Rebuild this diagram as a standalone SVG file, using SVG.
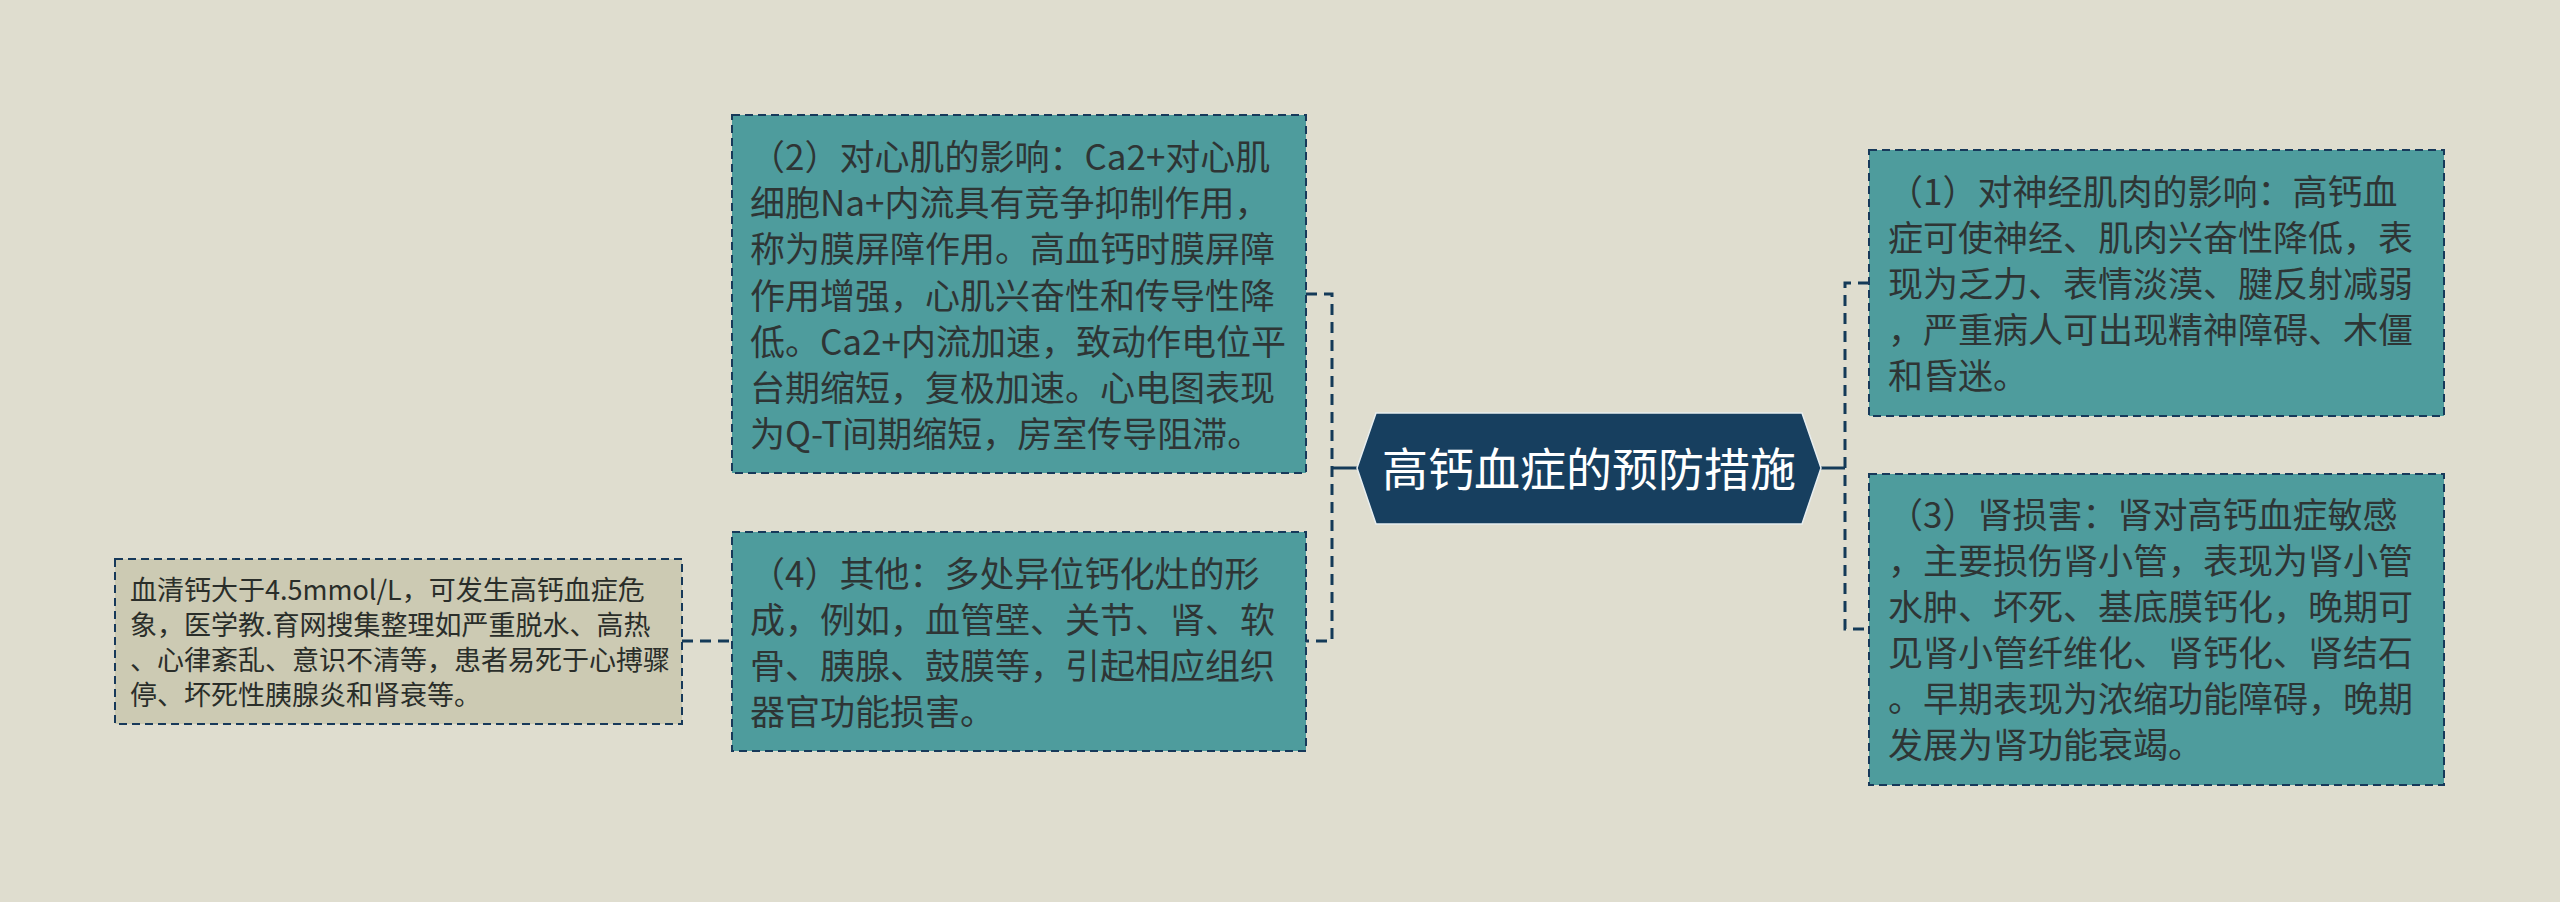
<svg xmlns="http://www.w3.org/2000/svg" width="2560" height="902" viewBox="0 0 2560 902">
<style>
.bg{fill:#DFDDCF}
.box{fill:#4E9C9D;stroke:#17395A;stroke-width:2;stroke-dasharray:8 5}
.lbox{fill:#CCCAB3;stroke:#17395A;stroke-width:2;stroke-dasharray:8 5}
.t{font-family:"Microsoft YaHei","Noto Sans CJK SC","Noto Sans",sans-serif;font-size:35px;fill:#2E3535}
.ts{font-family:"Microsoft YaHei","Noto Sans CJK SC","Noto Sans",sans-serif;font-size:27px;fill:#2A2E2A}
.root{fill:#173F5F;stroke:#E8EEF0;stroke-width:1.5}
.rt{font-family:"Microsoft YaHei","Noto Sans CJK SC","Noto Sans",sans-serif;font-size:46px;fill:#FFFFFF}
.c{fill:none;stroke:#143A58;stroke-width:3;stroke-dasharray:11 7}
.cs{fill:none;stroke:#143A58;stroke-width:3}
</style>
<rect class="bg" x="0" y="0" width="2560" height="902"/>
<g id="connectors">
<path class="c" d="M1306,294 H1332 V641 H1306"/>
<path class="cs" d="M1332,468 H1357"/>
<path class="c" d="M1869,283 H1845 V629 H1869"/>
<path class="cs" d="M1821,468 H1845"/>
<path class="c" d="M682,641 H732"/>
</g>
<g id="root">
<polygon class="root" points="1357,468 1376,413 1802,413 1821,468 1802,524 1376,524"/>
<text class="rt" x="1589" y="486" text-anchor="middle">高钙血症的预防措施</text>
</g>
<g id="node2">
<rect class="box" x="732" y="115" width="574" height="358"/>
<text class="t">
<tspan x="750" y="170">（2）对心肌的影响：Ca2+对心肌</tspan>
<tspan x="750" y="216">细胞Na+内流具有竞争抑制作用，</tspan>
<tspan x="750" y="262">称为膜屏障作用。高血钙时膜屏障</tspan>
<tspan x="750" y="309">作用增强，心肌兴奋性和传导性降</tspan>
<tspan x="750" y="355">低。Ca2+内流加速，致动作电位平</tspan>
<tspan x="750" y="401">台期缩短，复极加速。心电图表现</tspan>
<tspan x="750" y="447">为Q-T间期缩短，房室传导阻滞。</tspan>
</text>
</g>
<g id="node4">
<rect class="box" x="732" y="532" width="574" height="219"/>
<text class="t">
<tspan x="750" y="587">（4）其他：多处异位钙化灶的形</tspan>
<tspan x="750" y="633">成，例如，血管壁、关节、肾、软</tspan>
<tspan x="750" y="679">骨、胰腺、鼓膜等，引起相应组织</tspan>
<tspan x="750" y="725">器官功能损害。</tspan>
</text>
</g>
<g id="node1">
<rect class="box" x="1869" y="150" width="575" height="266"/>
<text class="t">
<tspan x="1888" y="205">（1）对神经肌肉的影响：高钙血</tspan>
<tspan x="1888" y="251">症可使神经、肌肉兴奋性降低，表</tspan>
<tspan x="1888" y="297">现为乏力、表情淡漠、腱反射减弱</tspan>
<tspan x="1888" y="343">，严重病人可出现精神障碍、木僵</tspan>
<tspan x="1888" y="389">和昏迷。</tspan>
</text>
</g>
<g id="node3">
<rect class="box" x="1869" y="474" width="575" height="311"/>
<text class="t">
<tspan x="1888" y="528">（3）肾损害：肾对高钙血症敏感</tspan>
<tspan x="1888" y="574">，主要损伤肾小管，表现为肾小管</tspan>
<tspan x="1888" y="620">水肿、坏死、基底膜钙化，晚期可</tspan>
<tspan x="1888" y="666">见肾小管纤维化、肾钙化、肾结石</tspan>
<tspan x="1888" y="712">。早期表现为浓缩功能障碍，晚期</tspan>
<tspan x="1888" y="758">发展为肾功能衰竭。</tspan>
</text>
</g>
<g id="node5">
<rect class="lbox" x="115" y="559" width="567" height="165"/>
<text class="ts">
<tspan x="130" y="600">血清钙大于4.5mmol/L，可发生高钙血症危</tspan>
<tspan x="130" y="635">象，医学教.育网搜集整理如严重脱水、高热</tspan>
<tspan x="130" y="670">、心律紊乱、意识不清等，患者易死于心搏骤</tspan>
<tspan x="130" y="705">停、坏死性胰腺炎和肾衰等。</tspan>
</text>
</g>
</svg>
